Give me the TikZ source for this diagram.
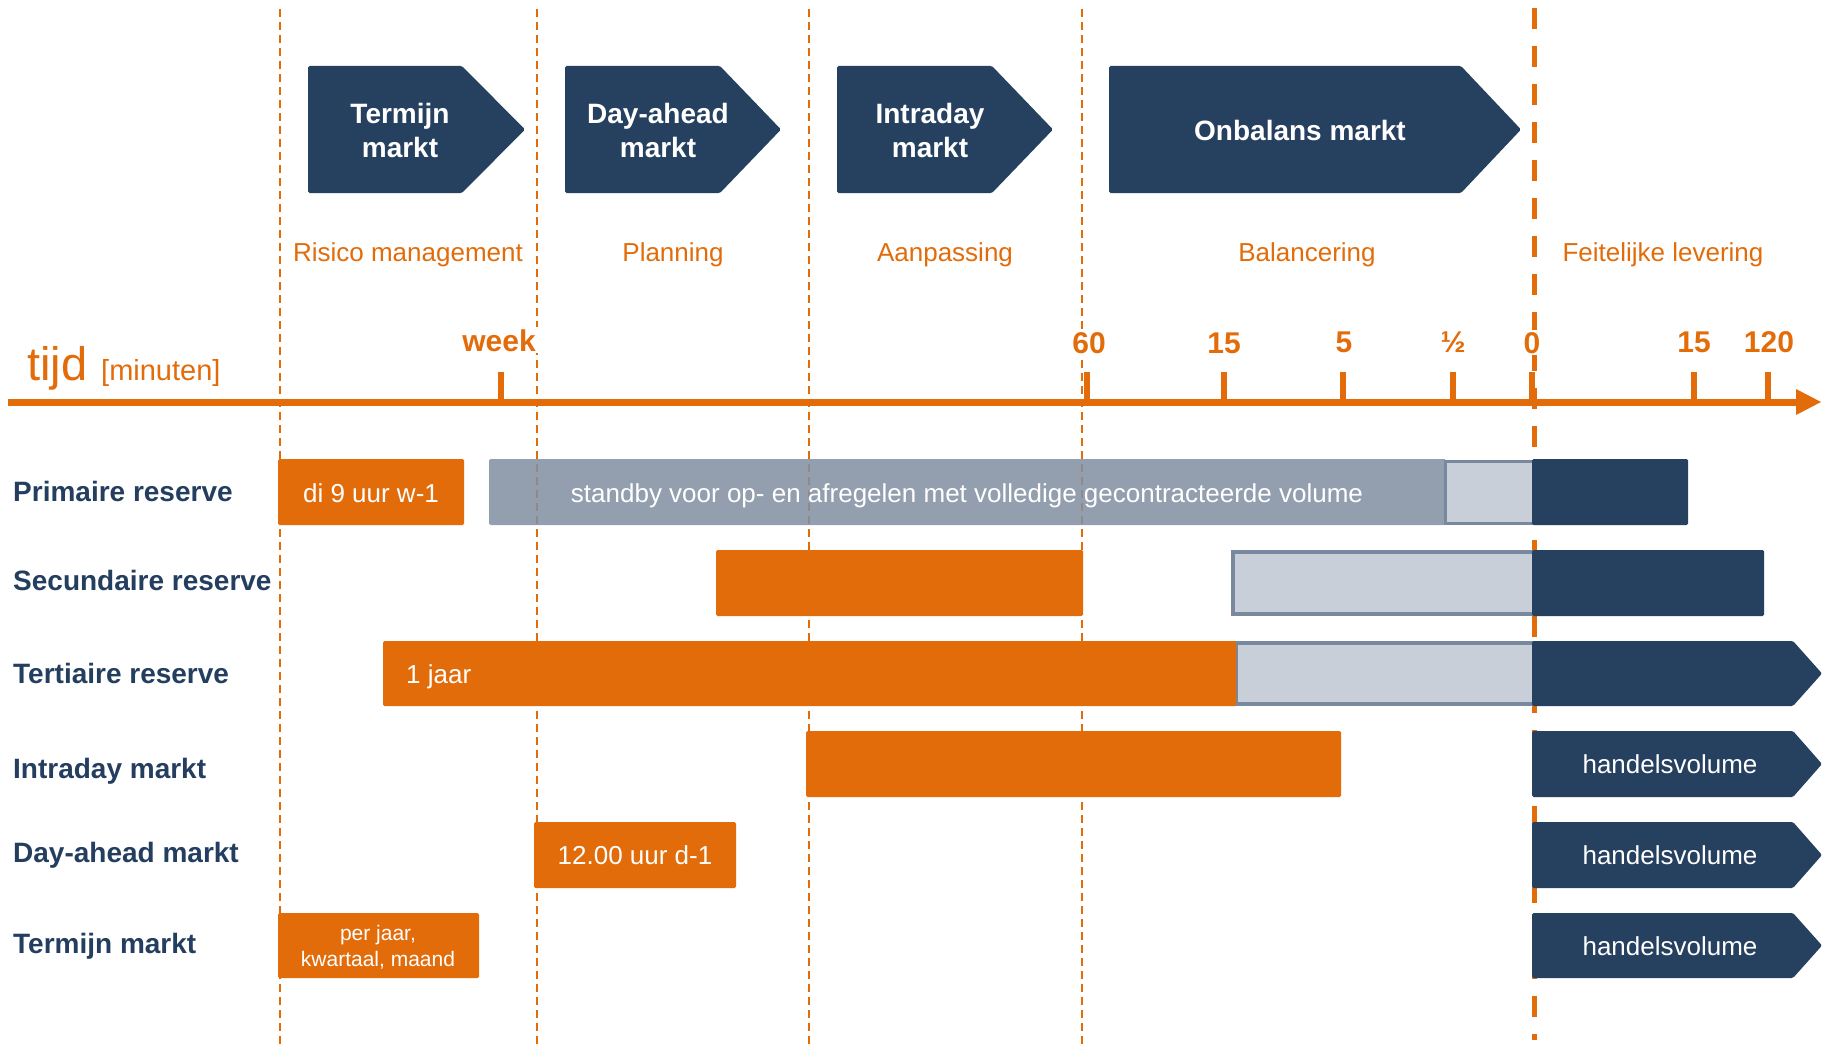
\documentclass[tikz,border=0pt]{standalone}
\usepackage{fontspec}
\setmainfont{Liberation Sans}
\definecolor{myorange}{RGB}{227,108,10}
\definecolor{navy}{RGB}{38,64,96}
\definecolor{navytext}{RGB}{36,62,96}
\definecolor{grayraw}{RGB}{129,143,161}
\definecolor{lightc}{RGB}{200,207,216}
\definecolor{slate}{RGB}{120,136,158}
\newcommand{\chevshape}[6]{\fill[#6, rounded corners=1.5pt] (#1,#2) -- (#3,#2) -- (#4,{(#2+#5)/2}) -- (#3,#5) -- (#1,#5) -- cycle;}
\newcommand{\barbox}[5]{\fill[#5, rounded corners=1.5pt] (#1,#2) rectangle (#3,#4);}
\begin{document}
\begin{tikzpicture}[x=1pt,y=-1pt,
  thindash/.style={draw=myorange, line width=2pt, dash pattern=on 8pt off 5pt},
  thickdash/.style={draw=myorange, line width=5pt, dash pattern=on 21pt off 17pt},
  rowlabel/.style={anchor=base west, text=navytext, font=\fontsize{28}{34}\selectfont\bfseries, inner sep=0pt},
  phase/.style={anchor=base, text=myorange, font=\fontsize{26}{31}\selectfont, inner sep=0pt},
  ticklbl/.style={anchor=base, text=myorange, font=\fontsize{30}{36}\selectfont\bfseries, fill=white, inner sep=2pt},
  bartext/.style={anchor=base, text=white, font=\fontsize{26}{31}\selectfont, inner sep=0pt},
  chevtext/.style={text=white, font=\fontsize{28}{34}\selectfont\bfseries, align=center, inner sep=0pt},
  tickmark/.style={draw=myorange, line width=6pt}
]
\useasboundingbox (0,0) rectangle (1822,1049);
\fill[white] (0,0) rectangle (1822,1049);

% vertical dashed lines
\coordinate (d1t) at (280,9);  \coordinate (d1b) at (280,1049);
\coordinate (d2t) at (537,9);  \coordinate (d2b) at (537,1049);
\coordinate (d3t) at (809,9);  \coordinate (d3b) at (809,1049);
\coordinate (d4t) at (1082,9); \coordinate (d4b) at (1082,1049);
\coordinate (d5t) at (1534,8); \coordinate (d5b) at (1534,1040);
\draw[thindash] (d1t) -- (d1b);
\draw[thindash] (d2t) -- (d2b);
\draw[thindash] (d3t) -- (d3b);
\draw[thindash] (d4t) -- (d4b);
\draw[thickdash] (d5t) -- (d5b);

% top chevrons
\chevshape{308}{66}{462}{525}{193}{navy}
\chevshape{565}{66}{720}{781}{193}{navy}
\chevshape{837}{66}{992}{1053}{193}{navy}
\chevshape{1109}{66}{1461}{1521}{193}{navy}
\node[chevtext] (c1) at (400,130) {Termijn\\markt};
\node[chevtext] (c2) at (658,130) {Day-ahead\\markt};
\node[chevtext] (c3) at (930,130) {Intraday\\markt};
\node[chevtext] (c4) at (1300,130) {Onbalans markt};

% phase labels
\node[phase] (p1) at (408,261) {Risico management};
\node[phase] (p2) at (673,261) {Planning};
\node[phase] (p3) at (945,261) {Aanpassing};
\node[phase] (p4) at (1307,261) {Balancering};
\node[phase] (p5) at (1663,261) {Feitelijke levering};

% time axis
\node[anchor=base west, text=myorange, font=\fontsize{47}{56}\selectfont, inner sep=0pt] (tijd) at (27,380) {tijd};
\node[anchor=base west, text=myorange, font=\fontsize{29}{35}\selectfont, inner sep=0pt] (min) at (101,380) {[minuten]};
\coordinate (ax0) at (8,402);
\coordinate (ax1) at (1800,402);
\draw[draw=myorange, line width=7pt] (ax0) -- (ax1);
\fill[myorange] (1796,389) -- (1821,402) -- (1796,415) -- cycle;
\foreach \xx/\nm in {501/tw,1087/t60,1224/t15,1343/t5,1453/thalf,1532/t0,1694/tp15,1768/tp120}{
  \coordinate (\nm a) at (\xx,372);
  \coordinate (\nm b) at (\xx,401);
  \draw[tickmark] (\nm a) -- (\nm b);
}
\node[ticklbl] (lw) at (499,351) {week};
\node[ticklbl] (l60) at (1089,353) {60};
\node[ticklbl] (l15) at (1224,353) {15};
\node[ticklbl] (l5) at (1344,352) {5};
\node[ticklbl] (lh) at (1453,352) {½};
\node[ticklbl] (l0) at (1532,353) {0};
\node[ticklbl] (lp15) at (1694,352) {15};
\node[ticklbl] (lp120) at (1769,352) {120};

% row labels
\node[rowlabel] (r1) at (13,501) {Primaire reserve};
\node[rowlabel] (r2) at (13,590) {Secundaire reserve};
\node[rowlabel] (r3) at (13,683) {Tertiaire reserve};
\node[rowlabel] (r4) at (13,778) {Intraday markt};
\node[rowlabel] (r5) at (13,862) {Day-ahead markt};
\node[rowlabel] (r6) at (13,953) {Termijn markt};

% row 1: primaire reserve
\fill[grayraw, fill opacity=0.85, rounded corners=1.5pt] (489,459) rectangle (1446,525);
\filldraw[fill=lightc, draw=slate, line width=3pt] (1445.5,461) rectangle (1540,523.5);
\barbox{1532}{459}{1688}{525}{navy}
\barbox{278}{459}{464}{525}{myorange}
\node[bartext] (b1a) at (371,502) {di 9 uur w-1};
\node[bartext] (b1b) at (967,502) {standby voor op- en afregelen met volledige gecontracteerde volume};

% row 2: secundaire reserve
\barbox{716}{550}{1083}{616}{myorange}
\filldraw[fill=lightc, draw=slate, line width=4pt] (1233,552) rectangle (1540,614);
\barbox{1532}{550}{1764}{616}{navy}

% row 3: tertiaire reserve
\filldraw[fill=lightc, draw=slate, line width=4pt] (1236,643) rectangle (1540,704);
\barbox{383}{641}{1236}{706}{myorange}
\chevshape{1532}{641}{1793}{1822}{706}{navy}
\node[bartext, anchor=base west] (b3) at (406,683) {1 jaar};

% row 4: intraday
\barbox{806}{731}{1341}{797}{myorange}
\chevshape{1532}{731}{1793}{1822}{797}{navy}
\node[bartext] (b4) at (1670,773) {handelsvolume};

% row 5: day-ahead
\barbox{534}{822}{736}{888}{myorange}
\chevshape{1532}{822}{1793}{1822}{888}{navy}
\node[bartext] (b5a) at (635,864) {12.00 uur d-1};
\node[bartext] (b5b) at (1670,864) {handelsvolume};

% row 6: termijn
\barbox{278}{913}{479}{978}{myorange}
\chevshape{1532}{913}{1793}{1822}{978}{navy}
\node[text=white, font=\fontsize{21}{26}\selectfont, align=center, inner sep=0pt] (b6a) at (378,947) {per jaar,\\kwartaal, maand};
\node[bartext] (b6b) at (1670,955) {handelsvolume};
\end{tikzpicture}
\end{document}
